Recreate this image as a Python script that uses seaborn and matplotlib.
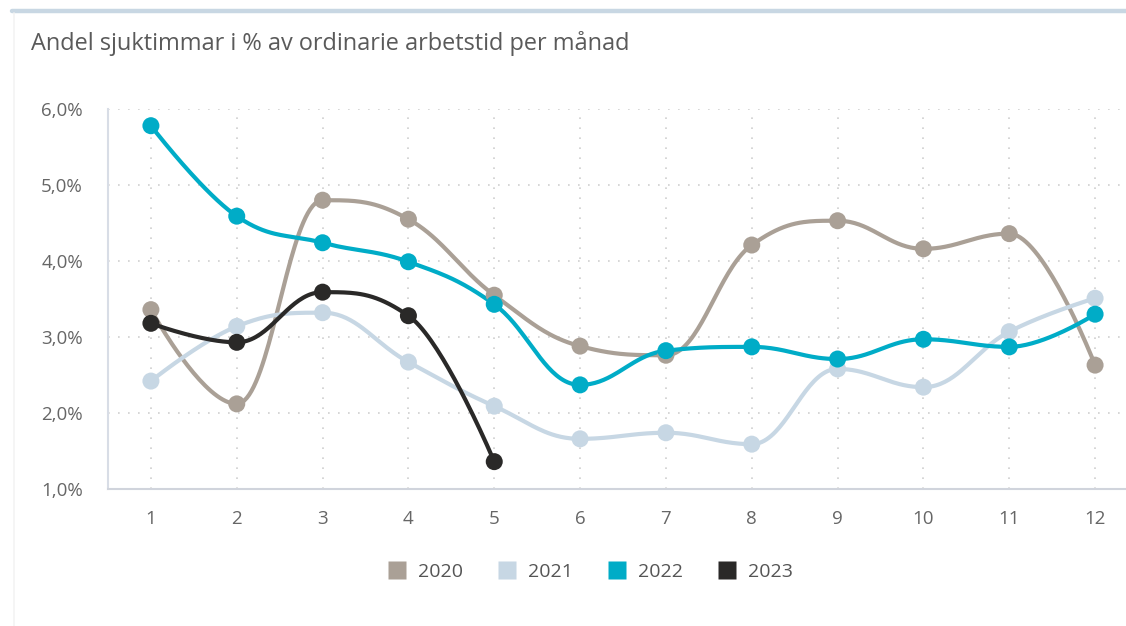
import numpy as np
import pandas as pd
import matplotlib
matplotlib.use("Agg")
import matplotlib.pyplot as plt
from matplotlib.lines import Line2D
import seaborn as sns

# ---- data ----
months = list(range(1, 13))
years = ["2020", "2021", "2022", "2023"]
v2020 = [3.36, 2.12, 4.80, 4.55, 3.55, 2.88, 2.76, 4.21, 4.53, 4.16, 4.36, 2.63]
v2021 = [2.42, 3.14, 3.32, 2.67, 2.09, 1.66, 1.74, 1.59, 2.58, 2.34, 3.07, 3.51]
v2022 = [5.78, 4.59, 4.24, 3.99, 3.43, 2.37, 2.82, 2.87, 2.71, 2.97, 2.87, 3.30]
v2023 = [3.18, 2.93, 3.59, 3.28, 1.36]
yticks = [1, 2, 3, 4, 5, 6]
ytick_labels = ["1,0%", "2,0%", "3,0%", "4,0%", "5,0%", "6,0%"]
title = "Andel sjuktimmar i % av ordinarie arbetstid per månad"
colors = {"2020": "#aaa096", "2021": "#c7d7e4", "2022": "#00acc7", "2023": "#2a2928"}

series = {"2020": v2020, "2021": v2021, "2022": v2022, "2023": v2023}


def spline_curve(xs, ys, n=40):
    """Highcharts-like spline through points."""
    xs = np.asarray(xs, float)
    ys = np.asarray(ys, float)
    m = len(xs)
    s = 1.5
    d = s + 1
    lc = [None] * m
    rc = [None] * m
    for i in range(m):
        if 0 < i < m - 1:
            px, py = xs[i], ys[i]
            lx, ly = xs[i - 1], ys[i - 1]
            nx, ny = xs[i + 1], ys[i + 1]
            lcx = (s * px + lx) / d
            lcy = (s * py + ly) / d
            rcx = (s * px + nx) / d
            rcy = (s * py + ny) / d
            corr = 0.0
            if rcx != lcx:
                corr = (rcy - lcy) * (rcx - px) / (rcx - lcx) + py - rcy
            lcy += corr
            rcy += corr
            if lcy > ly and lcy > py:
                lcy = max(ly, py)
                rcy = 2 * py - lcy
            elif lcy < ly and lcy < py:
                lcy = min(ly, py)
                rcy = 2 * py - lcy
            if rcy > ny and rcy > py:
                rcy = max(ny, py)
                lcy = 2 * py - rcy
            elif rcy < ny and rcy < py:
                rcy = min(ny, py)
                lcy = 2 * py - rcy
            lc[i] = (lcx, lcy)
            rc[i] = (rcx, rcy)
    outx, outy = [xs[0]], [ys[0]]
    t = np.linspace(0, 1, n)[1:]
    for i in range(1, m):
        p0 = (xs[i - 1], ys[i - 1])
        p1 = rc[i - 1] if rc[i - 1] is not None else p0
        p3 = (xs[i], ys[i])
        p2 = lc[i] if lc[i] is not None else p3
        bx = (1 - t) ** 3 * p0[0] + 3 * (1 - t) ** 2 * t * p1[0] + 3 * (1 - t) * t ** 2 * p2[0] + t ** 3 * p3[0]
        by = (1 - t) ** 3 * p0[1] + 3 * (1 - t) ** 2 * t * p1[1] + 3 * (1 - t) * t ** 2 * p2[1] + t ** 3 * p3[1]
        outx.extend(bx)
        outy.extend(by)
    return np.array(outx), np.array(outy)


pts_rows = []
curve_rows = []
for yr in years:
    vals = series[yr]
    xs = months[: len(vals)]
    for x, v in zip(xs, vals):
        pts_rows.append({"month": x, "value": v, "year": yr})
    cx, cy = spline_curve(xs, vals)
    for k, (a, b) in enumerate(zip(cx, cy)):
        curve_rows.append({"month": a, "value": b, "year": yr, "order": k})
pts = pd.DataFrame(pts_rows)
curves = pd.DataFrame(curve_rows)

sns.set_theme(style="white")
plt.rcParams["font.family"] = ["Open Sans", "DejaVu Sans"]

W, H = 1126, 626
fig = plt.figure(figsize=(W / 100, H / 100), dpi=100)
fig.patch.set_facecolor("white")

# plot area in pixels
left_px, right_px = 108, 1138
top_px, bot_px = 109, 489
ax = fig.add_axes([left_px / W, 1 - bot_px / H, (right_px - left_px) / W, (bot_px - top_px) / H])
ax.set_facecolor("white")

for yr in years:
    sub = curves[curves.year == yr]
    sns.lineplot(data=sub, x="month", y="value", sort=False, estimator=None,
                 color=colors[yr], linewidth=3.0, ax=ax, legend=False, zorder=3)
    sp = pts[pts.year == yr]
    sns.scatterplot(data=sp, x="month", y="value", color=colors[yr], s=150,
                    edgecolor="none", ax=ax, legend=False, zorder=4)

ax.set_xlim(0.5, 12.5)
ax.set_ylim(1, 6)
ax.set_xticks(months)
ax.set_xticklabels([str(m) for m in months])
ax.set_yticks(yticks)
ax.set_yticklabels(ytick_labels)
ax.set_xlabel("")
ax.set_ylabel("")
ax.tick_params(axis="both", length=0, labelsize=13.5, colors="#666666")
ax.tick_params(axis="y", pad=18)
ax.tick_params(axis="x", pad=15)
ax.grid(True, which="major", axis="both", color="#cfcfcf", linestyle=(0, (1, 5)), linewidth=1.2)
ax.set_axisbelow(True)
for s in ["top", "right"]:
    ax.spines[s].set_visible(False)
ax.spines["left"].set_color("#d8dde6")
ax.spines["left"].set_linewidth(1.5)
ax.spines["bottom"].set_color("#d0d4dc")
ax.spines["bottom"].set_linewidth(1.5)

# title
fig.text(31 / W, 1 - 44 / H, title, ha="left", va="center", fontsize=16.9, color="#5a5a5a")

# top band and faint card border
fig.add_artist(Line2D([12 / W, 1.0], [1 - 11 / H, 1 - 11 / H], color="#c8d7e3", linewidth=3.2))
fig.add_artist(Line2D([14 / W, 14 / W], [0, 1 - 13 / H], color="#f3f3f3", linewidth=1.2))

# legend
handles = [Line2D([], [], marker="s", linestyle="none", markersize=13.5, color=colors[yr],
                  markeredgecolor="none") for yr in years]
leg = fig.legend(handles, years, loc="center", bbox_to_anchor=(590 / W, 1 - 572 / H),
                 ncol=4, frameon=False, fontsize=14, handlelength=1.0, handletextpad=0.6,
                 columnspacing=1.75, labelcolor="#555555")

fig.savefig("out.png", dpi=100, facecolor="white")
